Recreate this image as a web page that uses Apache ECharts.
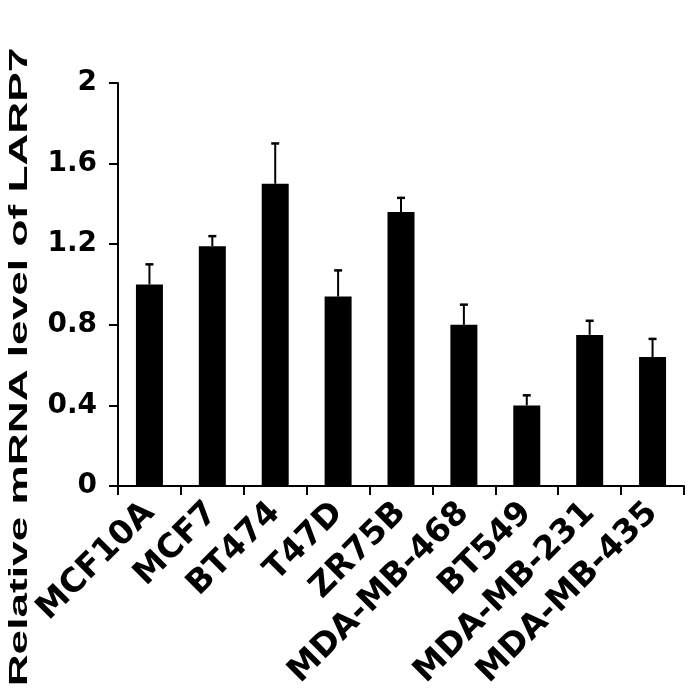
<!DOCTYPE html>
<html>
<head>
<meta charset="utf-8">
<script src="https://cdn.jsdelivr.net/npm/echarts@6/dist/echarts.min.js"></script>
<style>
  html, body { margin: 0; padding: 0; background: #fff; }
  #main { width: 688px; height: 696px; }
</style>
</head>
<body>
<div id="main"></div>
<script>
// cell lines and relative LARP7 mRNA level
const cellLines = ['MCF10A', 'MCF7', 'BT474', 'T47D', 'ZR75B', 'MDA-MB-468', 'BT549', 'MDA-MB-231', 'MDA-MB-435']
const levels = [1.0, 1.19, 1.5, 0.94, 1.36, 0.8, 0.4, 0.75, 0.64]
const errUp = [0.10, 0.05, 0.20, 0.13, 0.07, 0.10, 0.05, 0.07, 0.09]
const yTitle = 'Relative mRNA level of LARP7'

const chart = echarts.init(document.getElementById('main'), null, { renderer: 'canvas' })

// error bar: line up from bar top + small cap
function renderErr (params, api) {
  const idx = api.value(0)
  const v = api.value(1)
  const e = api.value(2)
  const p0 = api.coord([idx, v])
  const p1 = api.coord([idx, v + e])
  const hw = 4
  return {
    type: 'group',
    children: [
      { type: 'line', shape: { x1: p0[0], y1: p0[1], x2: p1[0], y2: p1[1] }, style: { stroke: '#000', lineWidth: 2 } },
      { type: 'line', shape: { x1: p1[0] - hw, y1: p1[1], x2: p1[0] + hw, y2: p1[1] }, style: { stroke: '#000', lineWidth: 2.5 } }
    ]
  }
}

chart.setOption({
  animation: false,
  backgroundColor: '#fff',
  grid: {
    left: 118,
    right: 4,
    top: 83,
    bottom: 210
  },
  xAxis: {
    type: 'category',
    data: cellLines,
    axisLine: { lineStyle: { color: '#000', width: 2 } },
    axisTick: { show: true, length: 9, lineStyle: { color: '#000', width: 2 } },
    axisLabel: {
      interval: 0,
      rotate: 45,
      margin: 22,
      color: '#000',
      fontFamily: 'DejaVu Sans',
      fontWeight: 'bold',
      fontSize: 33
    }
  },
  yAxis: {
    type: 'value',
    min: 0,
    max: 2,
    interval: 0.4,
    splitLine: { show: false },
    axisLine: { show: true, lineStyle: { color: '#000', width: 2 } },
    axisTick: { show: true, length: 9, lineStyle: { color: '#000', width: 2 } },
    axisLabel: {
      margin: 21,
      color: '#000',
      fontFamily: 'DejaVu Sans',
      fontWeight: 'bold',
      fontSize: 28
    }
  },
  graphic: [
    {
      type: 'text',
      x: 20,
      y: 367,
      rotation: Math.PI / 2,
      scaleX: 1.7,
      style: {
        text: yTitle,
        font: 'bold 26px "Liberation Sans", Arial, sans-serif',
        fill: '#000',
        align: 'center',
        verticalAlign: 'middle'
      }
    }
  ],
  series: [
    {
      name: 'level',
      type: 'bar',
      data: levels,
      barWidth: 27,
      itemStyle: { color: '#000' }
    },
    {
      name: 'err',
      type: 'custom',
      renderItem: renderErr,
      data: cellLines.map((c, i) => [i, levels[i], errUp[i]]),
      z: 5
    }
  ]
})
</script>
</body>
</html>
